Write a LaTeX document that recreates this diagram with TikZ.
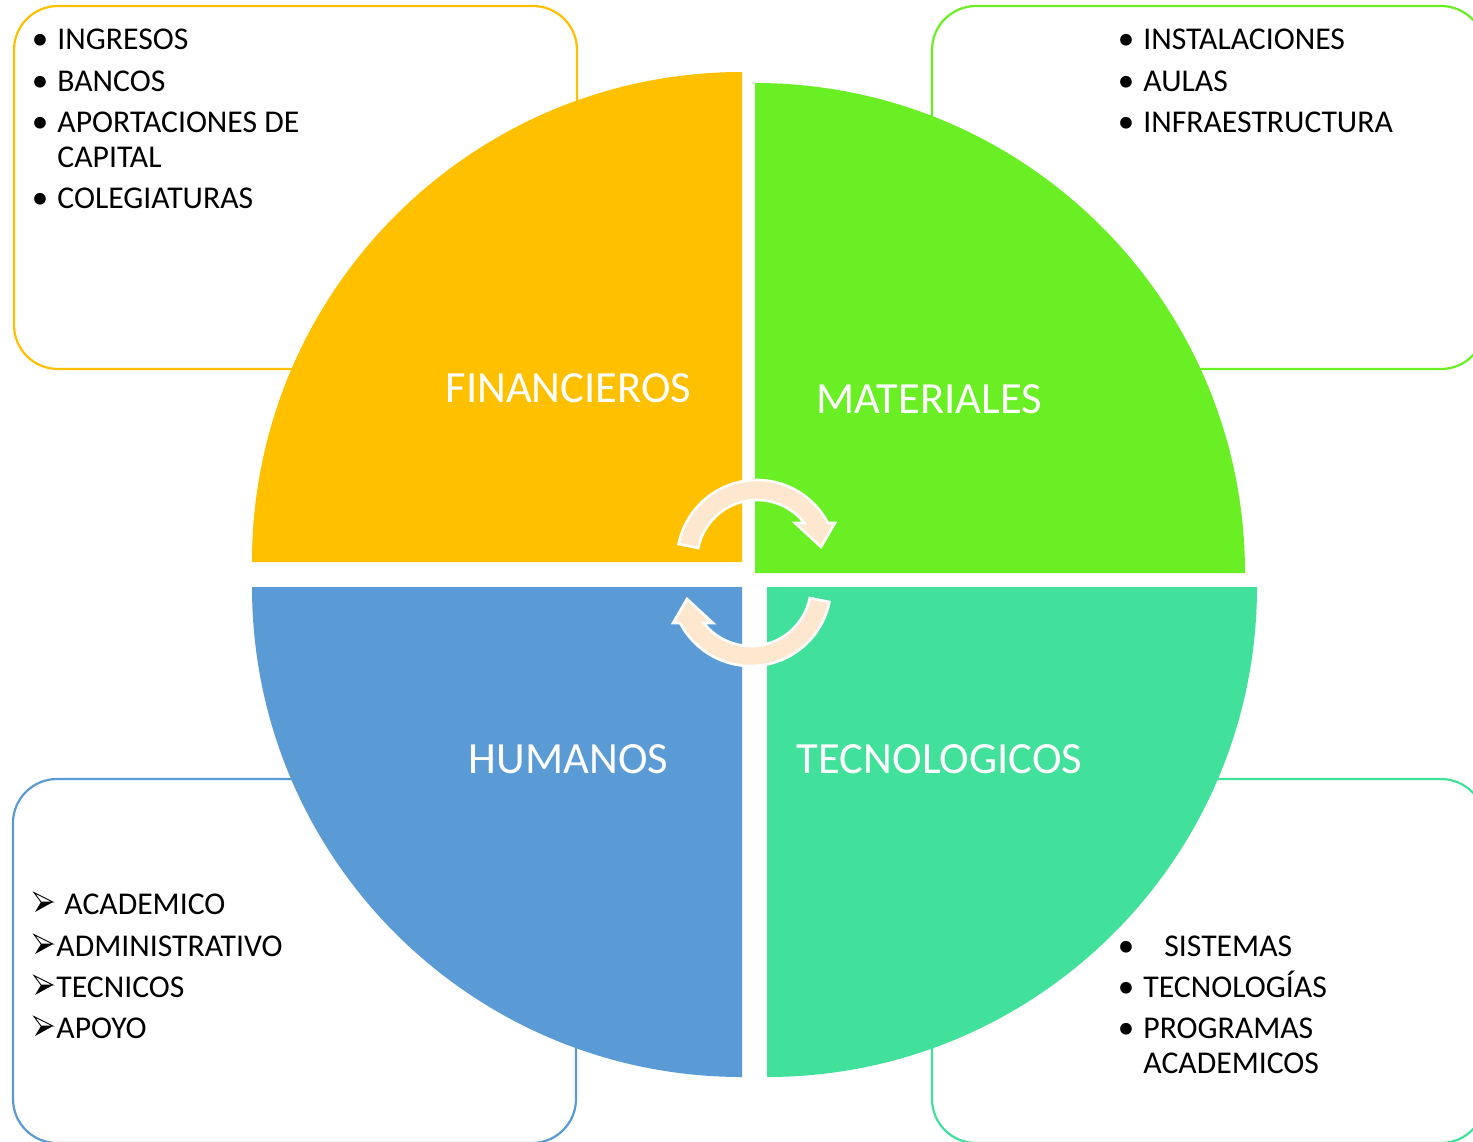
\documentclass[tikz,border=0pt]{standalone}
\usepackage{fontspec}
\setmainfont{Carlito}
\definecolor{cOrange}{RGB}{255,192,0}
\definecolor{cGreen}{RGB}{106,238,36}
\definecolor{cBlue}{RGB}{91,155,213}
\definecolor{cTeal}{RGB}{66,225,155}
\definecolor{cPeach}{RGB}{253,231,206}
\begin{document}
\begin{tikzpicture}[x=0.5pt,y=-0.5pt,
  listtxt/.style={font=\fontsize{15.85}{18}\selectfont, anchor=base west, inner sep=0pt, text=black},
  bul/.style={font=\fontsize{16.5}{18}\selectfont, anchor=base, inner sep=0pt, text=black},
  quadlabel/.style={font=\fontsize{22.3}{26}\selectfont, text=white, anchor=base, inner sep=0pt},
  listbox/.style={line width=1.1pt, rounded corners=22pt, fill=white},
  cyc/.style={fill=cPeach, draw=white, line width=1.3pt, line join=miter},
  arrowbullet/.pic={
    \filldraw[fill=white, draw=black, line width=0.45pt, line join=miter] (0,-9.5) -- (19,0) -- (7,0) -- cycle;
    \fill[black] (7,0) -- (19,0) -- (1,10) -- cycle;
  }]
\useasboundingbox (0,0) rectangle (1473,1141);
\clip (0,0) rectangle (1473,1141);
\fill[white] (0,0) rectangle (1473,1141);

% list boxes
\draw[listbox, draw=cOrange] (14,6) rectangle (577,369);
\draw[listbox, draw=cGreen] (932,6) rectangle (1485,369);
\draw[listbox, draw=cBlue] (13,779) rectangle (576,1143);
\draw[listbox, draw=cTeal] (932,779) rectangle (1485,1143);

% quadrants
\fill[cOrange] (742,562) -- (252,562) arc[start angle=180, end angle=270, radius=490] -- cycle;
\fill[cGreen] (755,573) -- (755,83) arc[start angle=270, end angle=360, radius=490] -- cycle;
\fill[cTeal] (767,587) -- (1257,587) arc[start angle=0, end angle=90, radius=490] -- cycle;
\fill[cBlue] (742,587) -- (742,1077) arc[start angle=90, end angle=180, radius=490] -- cycle;

% quadrant labels
\node[quadlabel] (fin) at (568.5,402) {FINANCIEROS};
\node[quadlabel] (mat) at (929,413) {MATERIALES};
\node[quadlabel] (hum) at (568.5,773) {HUMANOS};
\node[quadlabel] (tec) at (939.5,773) {TECNOLOGICOS};

% cycle arrows
\path[cyc] (757,560) ++(191.5:80) arc[start angle=191.5, end angle=332.4, radius=80]
  -- (835,523) -- (821,547) -- (795,523) -- (804.3,523)
  arc[start angle=322, end angle=191.5, radius=60] -- cycle;
\begin{scope}[rotate around={180:(754,573)}]
\path[cyc] (757,560) ++(191.5:80) arc[start angle=191.5, end angle=332.4, radius=80]
  -- (835,523) -- (821,547) -- (795,523) -- (804.3,523)
  arc[start angle=322, end angle=191.5, radius=60] -- cycle;
\end{scope}

% top-left list
\node[bul] (b1) at (40,49) {•};
\node[listtxt] (t1) at (57,49) {INGRESOS};
\node[bul] (b2) at (40,91) {•};
\node[listtxt] (t2) at (57,91) {BANCOS};
\node[bul] (b3) at (40,132) {•};
\node[listtxt] (t3) at (57,132) {APORTACIONES DE};
\node[listtxt] (t3b) at (57,167) {CAPITAL};
\node[bul] (b4) at (40,208) {•};
\node[listtxt] (t4) at (57,208) {COLEGIATURAS};

% top-right list
\node[bul] (b5) at (1126,49) {•};
\node[listtxt] (t5) at (1143,49) {INSTALACIONES};
\node[bul] (b6) at (1126,91) {•};
\node[listtxt] (t6) at (1143,91) {AULAS};
\node[bul] (b7) at (1126,132) {•};
\node[listtxt] (t7) at (1143,132) {INFRAESTRUCTURA};

% bottom-left list
\pic at (34,902) {arrowbullet};
\node[listtxt] (h1) at (64,914) {ACADEMICO};
\pic at (34,944) {arrowbullet};
\node[listtxt] (h2) at (56,956) {ADMINISTRATIVO};
\pic at (34,985) {arrowbullet};
\node[listtxt] (h3) at (56,997) {TECNICOS};
\pic at (34,1026) {arrowbullet};
\node[listtxt] (h4) at (56,1038) {APOYO};

% bottom-right list
\node[bul] (b8) at (1126,956) {•};
\node[listtxt] (s1) at (1164,956) {SISTEMAS};
\node[bul] (b9) at (1126,997) {•};
\node[listtxt] (s2) at (1143,997) {TECNOLOGÍAS};
\node[bul] (b10) at (1126,1038) {•};
\node[listtxt] (s3) at (1143,1038) {PROGRAMAS};
\node[listtxt] (s3b) at (1143,1073) {ACADEMICOS};
\end{tikzpicture}
\end{document}
